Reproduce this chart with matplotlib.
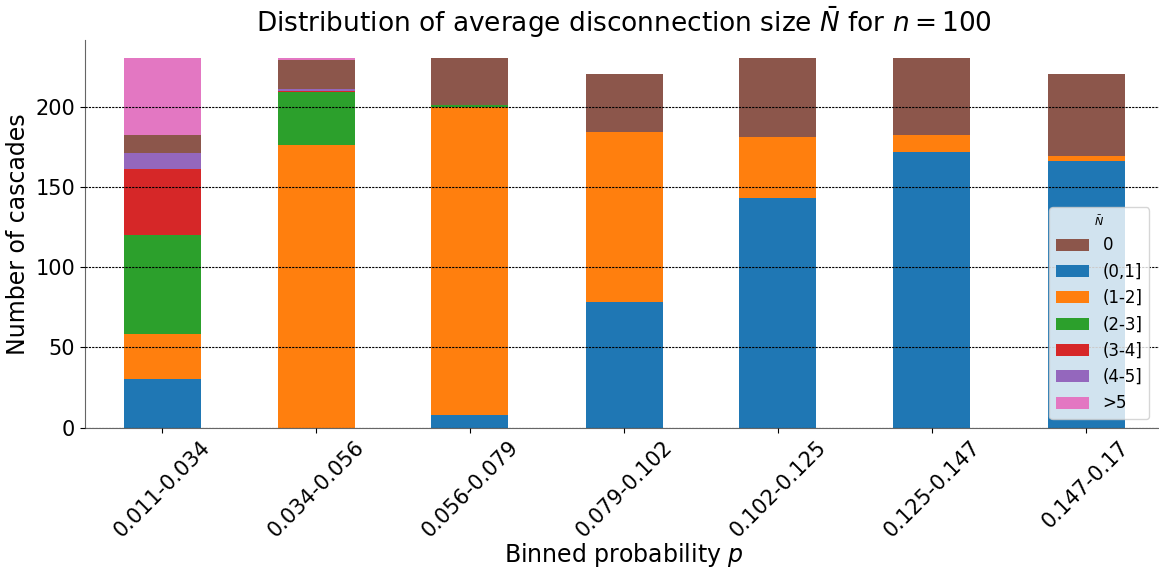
import numpy as np
import matplotlib
matplotlib.use('Agg')
import matplotlib.pyplot as plt

# ─── Data: cascade counts per probability bin ─────────────────────────────

bins = ['0.011-0.034', '0.034-0.056', '0.056-0.079', '0.079-0.102',
        '0.102-0.125', '0.125-0.147', '0.147-0.17']

# stacking order (bottom to top), coloured C0..C6
classes = ['(0,1]', '(1-2]', '(2-3]', '(3-4]', '(4-5]', '0', '>5']

n_01 = [30, 0, 8, 78, 143, 172, 166]
n_12 = [28, 176, 192, 106, 38, 10, 3]
n_23 = [62, 33, 1, 0, 0, 0, 0]
n_34 = [41, 1, 0, 0, 0, 0, 0]
n_45 = [10, 1, 0, 0, 0, 0, 0]
n_0 = [11, 18, 29, 36, 49, 48, 51]
n_5 = [48, 1, 0, 0, 0, 0, 0]

counts = [n_01, n_12, n_23, n_34, n_45, n_0, n_5]

# ─── Figure ───────────────────────────────────────────────────────────────

fig = plt.figure(figsize=(11.59, 5.70), dpi=100)
ax = fig.add_axes([85/1159, 1 - 427.5/570, 1078/1159, 387.5/570])

x = np.arange(len(bins))
bottom = np.zeros(len(bins))
handles = {}
for i, (lab, vals) in enumerate(zip(classes, counts)):
    h = ax.bar(x, vals, width=0.5, bottom=bottom, color=f'C{i}', label=lab)
    handles[lab] = h
    bottom += np.array(vals)

ax.set_xlim(-0.5, 6.5)
ax.set_ylim(0, 241.5)
ax.set_yticks([0, 50, 100, 150, 200])
ax.yaxis.grid(True, color='black', linestyle=(0, (2, 1)), linewidth=0.8)
ax.set_axisbelow(False)

ax.set_xticks(x)
ax.set_xticklabels(bins, rotation=45, fontsize=15)
ax.tick_params(axis='y', labelsize=15)

for s in ['top', 'right']:
    ax.spines[s].set_visible(False)
for s in ['left', 'bottom']:
    ax.spines[s].set_color('#666666')

ax.set_title(r'Distribution of average disconnection size $\bar{N}$ for $n=100$',
             fontsize=19, pad=4)
ax.set_xlabel('Binned probability $p$', fontsize=17, labelpad=0)
ax.set_ylabel('Number of cascades', fontsize=17)

order = ['0', '(0,1]', '(1-2]', '(2-3]', '(3-4]', '(4-5]', '>5']
leg = ax.legend([handles[k] for k in order], order, title=r'$\bar{N}$',
                fontsize=12, title_fontsize=8, loc='lower right',
                bbox_to_anchor=(0.995, 0.0), framealpha=0.8)

fig.savefig('out.png', dpi=100)
